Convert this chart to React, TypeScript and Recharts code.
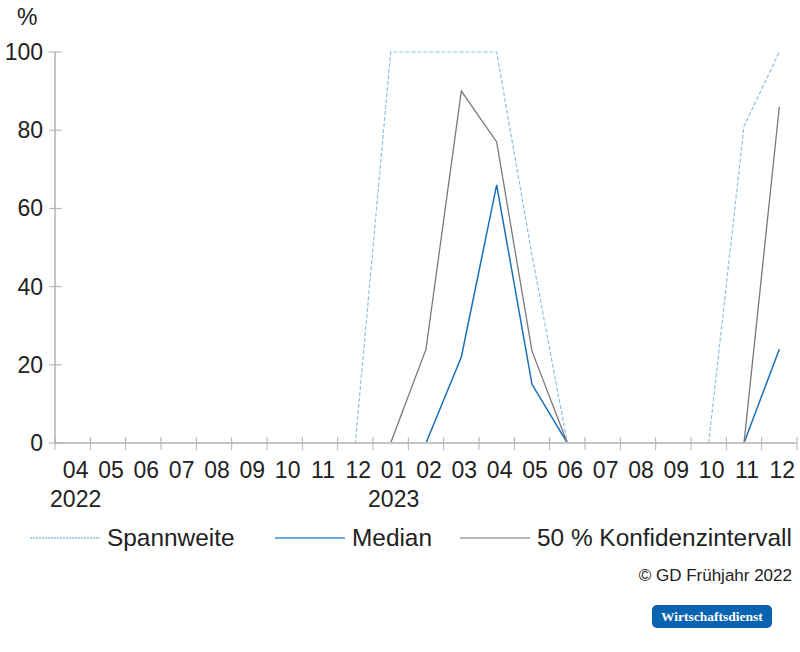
import { LineChart, Line, XAxis, YAxis } from "recharts"

const MONTHS = ["04", "05", "06", "07", "08", "09", "10", "11", "12", "01", "02", "03", "04", "05", "06", "07", "08", "09", "10", "11", "12"]
const YEARS = ["2022", "", "", "", "", "", "", "", "", "2023", "", "", "", "", "", "", "", "", "", "", ""]

const SPANNWEITE = [0, 0, 0, 0, 0, 0, 0, 0, 0, 100, 100, 100, 100, 48, 0, 0, 0, 0, 0, 81, 100]
const MEDIAN = [0, 0, 0, 0, 0, 0, 0, 0, 0, 0, 0, 22, 66, 15, 0, 0, 0, 0, 0, 0, 24]
const KONFIDENZ = [0, 0, 0, 0, 0, 0, 0, 0, 0, 0, 24, 90, 77, 23.5, 0, 0, 0, 0, 0, 0, 86]

const Y_TICKS = [0, 20, 40, 60, 80, 100]

const FONT = '"Liberation Sans", Arial, Helvetica, sans-serif'

// plot is 742px wide, 21 months -> half a month on each side
const HALF_BAND = 742 / 21 / 2

const data = MONTHS.map((m, i) => ({
  idx: i,
  m,
  span: SPANNWEITE[i],
  median: MEDIAN[i],
  ci: KONFIDENZ[i],
}))

const LEGEND = [
  { name: "Spannweite", left: 30, color: "#a9cdec", dash: "2 1" },
  { name: "Median", left: 275, color: "#6fa6d4", dash: undefined },
  { name: "50 % Konfidenzintervall", left: 460, color: "#b8b8b8", dash: undefined },
]

function MonthTick(props: any) {
  const { x, y, payload, index } = props
  const last = index === MONTHS.length - 1
  return (
    <g>
      <line x1={x - HALF_BAND} x2={x - HALF_BAND} y1={y - 6} y2={y + 7} stroke="#b0b0b0" strokeWidth={1} />
      {last && <line x1={x + HALF_BAND} x2={x + HALF_BAND} y1={y - 6} y2={y + 7} stroke="#b0b0b0" strokeWidth={1} />}
      <text x={x + 3} y={y + 35} textAnchor="middle" fontSize={23} fill="#222" fontFamily={FONT}>
        {MONTHS[payload.value]}
      </text>
      {YEARS[payload.value] && (
        <text x={x + 3} y={y + 64} textAnchor="middle" fontSize={23} fill="#222" fontFamily={FONT}>
          {YEARS[payload.value]}
        </text>
      )}
    </g>
  )
}

function ValueTick(props: any) {
  const { x, y, payload } = props
  return (
    <g>
      <line x1={x - 6} x2={x + 7} y1={y} y2={y} stroke="#b0b0b0" strokeWidth={1} />
      <text x={x - 12} y={y + 8} textAnchor="end" fontSize={23} fill="#222" fontFamily={FONT}>
        {payload.value}
      </text>
    </g>
  )
}

export default function App() {
  return (
    <div style={{ position: "absolute", left: 0, top: 0, width: 800, height: 652, background: "#fff", fontFamily: FONT }}>
      <div style={{ position: "absolute", left: 17, top: 4, fontSize: 23, color: "#222" }}>%</div>

      <LineChart width={800} height={520} data={data} margin={{ top: 52, right: 3, bottom: 0, left: 0 }}>
        <XAxis
          dataKey="idx"
          type="category"
          interval={0}
          height={77}
          padding={{ left: HALF_BAND, right: HALF_BAND }}
          tickSize={0}
          tickMargin={0}
          tickLine={false}
          axisLine={{ stroke: "#c4c4c4", strokeWidth: 2 }}
          tick={MonthTick}
        />
        <YAxis
          domain={[0, 100]}
          ticks={Y_TICKS}
          width={55}
          tickSize={0}
          tickMargin={0}
          tickLine={false}
          axisLine={{ stroke: "#8c8c8c" }}
          tick={ValueTick}
        />
        <Line dataKey="span" stroke="#8fc0e6" strokeWidth={1.2} strokeDasharray="4 2" dot={false} isAnimationActive={false} />
        <Line dataKey="median" stroke="#1a70b8" strokeWidth={1.5} dot={false} isAnimationActive={false} />
        <Line dataKey="ci" stroke="#7a7a7a" strokeWidth={1.3} dot={false} isAnimationActive={false} />
      </LineChart>

      {LEGEND.map((l) => (
        <div key={l.name} style={{ position: "absolute", left: l.left, top: 522, display: "flex", alignItems: "center", height: 32 }}>
          <svg width={70} height={4} style={{ marginRight: 7 }}>
            <line x1={0} x2={70} y1={2} y2={2} stroke={l.color} strokeWidth={2} strokeDasharray={l.dash} />
          </svg>
          <span style={{ fontSize: 24.4, color: "#222", whiteSpace: "nowrap" }}>{l.name}</span>
        </div>
      ))}

      <div style={{ position: "absolute", right: 8, top: 566, fontSize: 17, color: "#222" }}>© GD Frühjahr 2022</div>

      <div
        style={{
          position: "absolute",
          left: 652,
          top: 605,
          width: 120,
          height: 23,
          background: "#0a63b1",
          borderRadius: 5,
          color: "#fff",
          fontFamily: '"Liberation Serif", "Times New Roman", serif',
          fontWeight: 700,
          fontSize: 13.5,
          display: "flex",
          alignItems: "center",
          justifyContent: "center",
        }}
      >
        Wirtschaftsdienst
      </div>
    </div>
  )
}
